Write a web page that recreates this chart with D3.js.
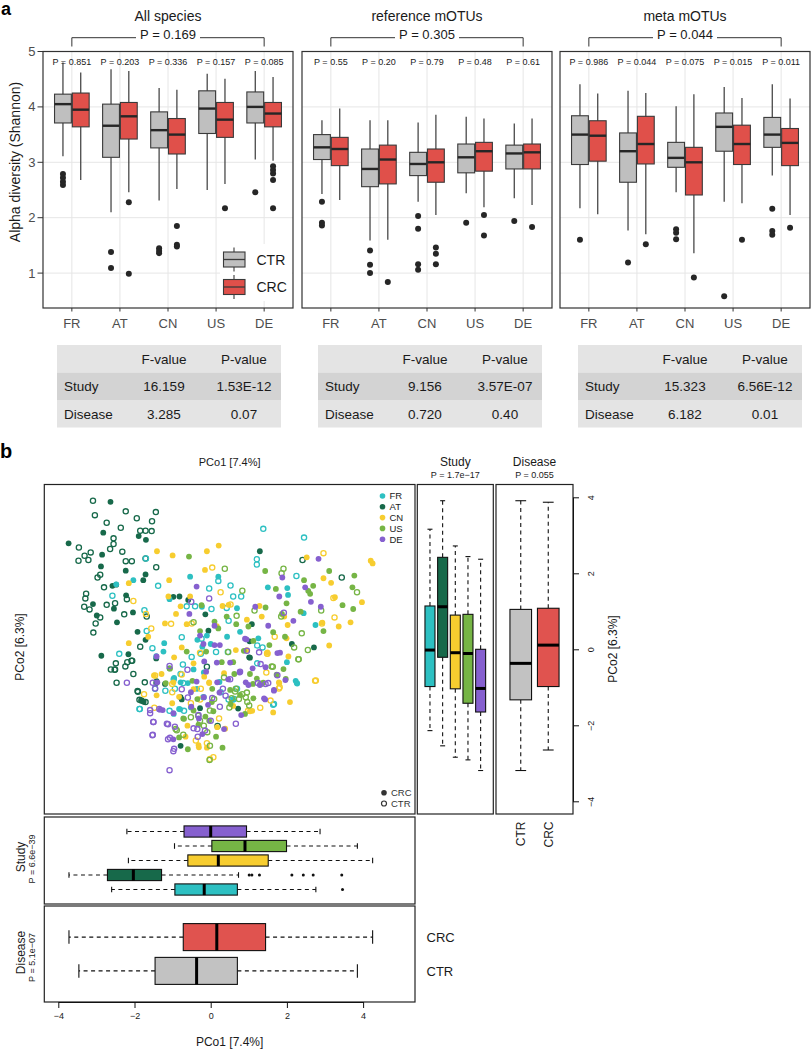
<!DOCTYPE html>
<head>
<meta charset="utf-8">
<title>Alpha diversity and PCoA</title>
<script src="https://d3js.org/d3.v7.min.js"></script>
<style>
  body{margin:0;background:#fff;}
  text{font-family:'Liberation Sans', Arial, sans-serif;}
</style>
</head>
<body>
<script>
// ---------- data: panel a ----------
var studies = ["FR", "AT", "CN", "US", "DE"];
var groups = ["CTR", "CRC"];

// box stats per study, CTR then CRC
var allSpecies = [
  [{lo:3.11,q1:3.71,med:4.05,q3:4.23,hi:4.80,out:[2.79,2.72,2.65,2.59]}, {lo:2.68,q1:3.64,med:3.95,q3:4.25,hi:4.62,out:[]}],
  [{lo:2.10,q1:3.09,med:3.66,q3:4.05,hi:4.68,out:[1.38,1.09]}, {lo:2.46,q1:3.42,med:3.83,q3:4.08,hi:4.65,out:[2.28,0.99]}],
  [{lo:2.31,q1:3.26,med:3.58,q3:3.91,hi:4.34,out:[1.45,1.40,1.36]}, {lo:2.52,q1:3.15,med:3.50,q3:3.79,hi:4.31,out:[1.85,1.51,1.48]}],
  [{lo:2.50,q1:3.52,med:3.97,q3:4.29,hi:4.60,out:[]}, {lo:2.61,q1:3.45,med:3.77,q3:4.08,hi:4.51,out:[2.17]}],
  [{lo:3.05,q1:3.71,med:4.00,q3:4.27,hi:4.65,out:[2.46]}, {lo:3.03,q1:3.64,med:3.88,q3:4.08,hi:4.54,out:[2.93,2.86,2.80,2.68,2.17]}]
];
var refMotus = [
  [{lo:2.43,q1:3.05,med:3.27,q3:3.50,hi:3.76,out:[2.29,1.91,1.86]}, {lo:2.32,q1:2.94,med:3.24,q3:3.45,hi:3.97,out:[]}],
  [{lo:1.59,q1:2.56,med:2.88,q3:3.24,hi:3.76,out:[1.41,1.15,1.00]}, {lo:1.60,q1:2.61,med:3.05,q3:3.31,hi:3.76,out:[0.84]}],
  [{lo:2.29,q1:2.76,med:2.97,q3:3.18,hi:3.72,out:[2.03,1.80,1.16,1.06]}, {lo:2.05,q1:2.64,med:3.00,q3:3.24,hi:3.86,out:[1.46,1.35,1.16]}],
  [{lo:2.44,q1:2.81,med:3.09,q3:3.33,hi:3.82,out:[1.91]}, {lo:2.19,q1:2.84,med:3.20,q3:3.36,hi:3.79,out:[2.05,1.68]}],
  [{lo:2.35,q1:2.88,med:3.16,q3:3.31,hi:3.70,out:[1.94]}, {lo:2.23,q1:2.88,med:3.18,q3:3.33,hi:3.79,out:[1.83]}]
];
var metaMotus = [
  [{lo:2.17,q1:2.96,med:3.50,q3:3.84,hi:4.41,out:[1.60]}, {lo:2.06,q1:3.02,med:3.48,q3:3.75,hi:4.24,out:[]}],
  [{lo:1.77,q1:2.64,med:3.20,q3:3.53,hi:4.29,out:[1.19]}, {lo:1.70,q1:2.97,med:3.33,q3:3.83,hi:4.25,out:[1.52]}],
  [{lo:2.46,q1:2.91,med:3.08,q3:3.36,hi:4.01,out:[1.79,1.73,1.61]}, {lo:1.36,q1:2.41,med:3.00,q3:3.27,hi:4.23,out:[0.92]}],
  [{lo:2.29,q1:3.20,med:3.64,q3:3.89,hi:4.36,out:[0.58]}, {lo:2.26,q1:2.96,med:3.33,q3:3.67,hi:4.16,out:[1.60]}],
  [{lo:2.76,q1:3.27,med:3.50,q3:3.81,hi:4.41,out:[2.16,1.76,1.69]}, {lo:2.05,q1:2.94,med:3.35,q3:3.61,hi:4.15,out:[1.82]}]
];
var panelTitles = ["All species", "reference mOTUs", "meta mOTUs"];
var studyP = [
  ["0.851", "0.203", "0.336", "0.157", "0.085"],
  ["0.55", "0.20", "0.79", "0.48", "0.61"],
  ["0.986", "0.044", "0.075", "0.015", "0.011"]
];
var overallP = ["0.169", "0.305", "0.044"];
var yTicksA = [1, 2, 3, 4, 5];

// anova tables
var tableHeader = ["", "F-value", "P-value"];
var tableStudy = [["16.159", "1.53E-12"], ["9.156", "3.57E-07"], ["15.323", "6.56E-12"]];
var tableDisease = [["3.285", "0.07"], ["0.720", "0.40"], ["6.182", "0.01"]];

// ---------- data: panel b (PCo1, PCo2) ----------
var frCRC = [[-0.54,1.91],[0.20,1.91],[-2.03,1.82],[-2.48,1.71],[-1.08,1.32],[-0.23,1.12],[0.69,1.08],[1.50,1.63],[2.01,1.61],[2.03,1.43],[2.75,0.64],[2.44,0.95],[2.00,-0.34],[2.26,-0.89],[1.25,0.29],[0.77,0.46],[0.43,0.33],[0.00,0.14],[-0.22,0.07],[-0.35,0.25],[-0.10,0.36],[-1.24,-0.06],[-1.43,-0.18],[-1.22,0.16],[-0.96,-0.75],[-0.60,-0.89],[-0.36,-1.04],[-0.80,-1.58],[-0.97,-1.70],[-0.18,-0.61],[0.23,-0.86],[-0.45,-0.53],[0.59,-1.33],
  [-0.79,-0.87],[-0.83,-1.57],[-0.52,-1.53],[2.23,-0.83],[2.27,-0.90]];
var frCTR = [[1.38,3.17],[2.45,2.94],[1.21,2.37],[1.21,2.23],[2.25,1.93],[-1.70,2.39],[-1.38,1.67],[-1.74,1.03],[-1.68,0.48],[-0.76,0.32],[-0.63,1.13],[-0.41,1.13],[-0.04,1.60],[0.20,1.80],[0.52,1.68],[0.59,1.39],[0.80,1.39],[0.42,1.09],[0.47,0.75],[0.02,1.06],[-0.24,0.28],[-0.26,-0.12],[-0.50,-0.20],[-0.73,-0.40],[-1.53,0.03],[-2.40,-0.12],[-2.58,1.41],[0.14,-0.07],[0.45,-0.07],[1.22,0.10],[1.36,0.05],[-0.97,-0.79],[-1.19,-1.09],[-0.94,-1.04],[-0.72,-0.89],[-1.87,-1.57],[0.47,-1.32],[0.69,-1.04],[1.64,-1.46],[1.22,-0.37],[-0.19,-1.26],
  [-1.46,-1.04],[-0.79,-0.65],[0.26,-1.13],[-0.70,-1.62],[-1.86,-1.57],[-1.08,-1.62],[1.66,-1.44],[0.61,-1.31]];
var atCRC = [[-2.63,3.88],[-2.82,3.07],[-1.89,2.98],[-1.70,2.88],[-3.73,2.79],[-2.85,2.49],[-2.88,2.18],[-2.23,2.07],[-1.77,1.82],[-1.71,1.97],[-2.58,1.67],[-2.48,1.70],[-2.22,1.42],[-3.09,1.19],[-2.99,0.89],[-2.54,1.07],[-2.04,0.97],[-2.46,0.71],[-2.87,-0.17],[-1.92,0.46],[-1.71,0.25],[-1.43,-0.24],[-2.16,-0.13],[-1.43,-0.89],[-1.81,-1.35],[-0.98,1.38],[-0.82,1.39],[-0.59,1.30],[-0.14,0.92],[-0.06,0.49],[1.08,0.66],[1.02,0.21],[1.03,-0.22],[1.29,2.58],[2.71,0.05],[2.13,0.14],[-0.76,-1.32],[-0.28,-1.55],[0.72,-1.56],[-0.79,-2.54],[-1.42,-0.84],[-1.08,-0.50],
  [-1.20,-0.91],[-0.79,-1.26],[1.01,-0.21],[-1.76,-1.38]];
var atCTR = [[-3.09,3.91],[-3.04,3.53],[-2.73,3.33],[-2.23,3.63],[-1.94,3.45],[-1.44,3.61],[-1.54,3.37],[-2.36,3.20],[-1.85,3.12],[-1.71,3.12],[-1.55,3.11],[-2.55,2.92],[-2.64,2.64],[-3.46,2.68],[-3.31,2.46],[-3.47,2.33],[-3.15,2.55],[-3.21,2.35],[-2.55,2.77],[-2.32,2.57],[-2.23,2.32],[-2.07,2.32],[-1.71,2.39],[-1.43,2.16],[-2.97,1.89],[-2.90,1.96],[-2.80,1.63],[-3.27,1.46],[-3.29,1.34],[-3.32,1.12],[-3.18,1.05],[-2.90,0.84],[-3.02,0.68],[-3.08,0.44],[-2.73,1.17],[-2.51,1.21],[-2.27,0.92],[-2.20,1.32],[-2.62,-0.53],[-2.51,-0.53],[-2.49,-0.37],[-2.24,-0.45],[-2.06,-0.30],[-2.03,-0.65],[-2.47,-0.88],[-1.92,-1.10],[-1.73,-0.87],[-1.87,-1.33],[-1.71,-1.39],[-1.85,0.07],[-1.68,0.86],[2.41,2.35],[3.44,1.89],[-0.10,-0.46],[0.18,-2.02],
  [-2.08,-0.30],[-2.19,-0.34],[-2.52,-0.54],[-1.91,-1.12],[-1.82,-1.35]];
var cnCRC = [[-1.41,2.58],[-1.00,2.47],[-0.10,2.58],[0.21,2.73],[-0.15,2.09],[-1.09,1.82],[-2.15,1.74],[-1.11,1.39],[-0.91,0.93],[-0.79,1.13],[-0.54,1.39],[0.31,1.14],[0.47,1.17],[0.95,0.78],[1.28,1.14],[1.34,0.86],[1.93,0.86],[2.02,0.64],[2.96,1.87],[3.16,1.75],[3.26,1.37],[2.93,0.70],[3.36,0.60],[3.67,0.71],[3.97,1.24],[4.20,2.33],[4.25,2.26],[3.11,0.10],[2.52,2.42],[-2.15,0.16],[-1.64,0.33],[-1.20,0.68],[-0.63,0.66],[-0.76,0.05],[-0.96,-0.21],[-0.45,-0.37],[-0.17,-0.72],[-0.04,-0.89],[0.35,-0.63],[0.66,-0.02],[0.95,-0.02],[1.49,-0.08],[2.04,-0.19],[1.80,-0.89],[2.08,-1.39],[1.64,-1.66],[1.03,-1.63],[0.59,-1.49],[0.38,-2.09],[-0.10,-2.59],[-0.32,-2.52],[-0.66,-2.30],[-1.42,-1.21],[-0.83,-1.25],[-0.45,-1.05],[-1.29,-0.65],[-1.01,-1.42],[0.16,0.61],[1.99,0.29],
  [-1.49,-0.69],[-0.98,-0.87],[-0.04,-0.87],[-0.61,-2.01],[0.17,-2.05],[-0.31,-2.58],[1.79,-0.87],[1.09,-1.62]];
var cnCTR = [[0.04,2.15],[-2.03,1.27],[-1.70,0.93],[-1.56,0.55],[-1.04,0.67],[0.26,1.50],[0.52,1.18],[-0.50,0.68],[-0.28,-0.09],[-0.76,-0.66],[-1.46,-0.69],[-1.01,-0.91],[-1.75,-1.18],[-1.48,-1.54],[-0.52,-1.42],[-0.28,-1.32],[0.22,-1.82],[0.98,-1.62],[1.30,-1.54],[1.48,-0.11],[1.68,0.33],[1.46,-0.61],[1.81,-1.00],[2.76,-0.82],[3.22,1.35],[3.25,0.84],[2.96,2.53],[2.92,0.68],[0.07,-2.84],[-0.10,-2.47],
  [-1.01,-1.13],[-0.26,-1.04],[-0.39,-2.40],[1.49,-0.12],[2.74,-0.83],[1.79,-1.03],[1.57,-1.35],[-0.02,-2.89]];
var usCRC = [[-0.57,2.44],[1.43,2.06],[1.71,1.59],[2.45,1.82],[2.56,1.54],[2.69,1.67],[3.11,2.06],[3.77,1.94],[3.72,1.63],[3.46,1.16],[3.74,1.06],[2.96,0.48],[2.61,1.46],[1.99,1.21],[2.36,0.99],[1.95,0.33],[1.54,0.11],[1.44,1.10],[1.87,0.93],[1.64,0.45],[0.99,0.60],[0.67,0.66],[0.42,0.86],[-0.28,0.48],[-0.24,1.16],[0.10,0.73],[0.20,0.55],[-0.12,-0.06],[-0.63,-0.06],[0.29,-0.34],[0.59,-0.34],[0.87,-0.04],[1.12,0.22],[1.03,-0.65],[1.21,-0.77],[1.38,-0.88],[0.62,-0.65],[0.51,-1.07],[0.03,-1.39],[-0.14,-1.77],[0.07,-1.63],[-0.45,-1.61],[-0.32,-1.98],[-0.60,-2.63],[0.14,-2.30],[0.31,-2.59],[0.77,-1.20],[1.12,-1.29],[1.73,-0.67],[1.91,-0.52],[-0.72,-1.82],[-0.48,-0.83],[-1.18,-0.89],[-1.07,-0.51],
  [-0.35,-1.31],[0.04,-1.04],[-0.70,-1.83],[-0.04,-1.88],[-0.83,-2.32],[1.97,-0.78],[1.11,-0.91],[0.90,-1.70],[0.52,-1.44]];
var usCTR = [[0.37,2.12],[1.91,2.12],[1.86,2.00],[0.83,1.54],[0.68,0.88],[1.15,1.02],[1.85,0.86],[-0.45,0.71],[2.90,1.02],[3.84,1.50],[2.39,0.42],[2.55,-0.02],[2.31,-0.26],[2.19,0.05],[0.46,-0.07],[1.63,-0.46],[0.95,-1.14],[0.64,-1.11],[0.49,-1.53],[0.55,-1.29],[-0.02,-1.61],[-0.28,-1.88],[-0.02,-2.54],[-0.89,-2.13],[-0.72,-2.25],[-0.03,-2.91],
  [0.09,-1.31],[0.35,-0.74],[-0.52,-1.79],[-0.33,-1.75],[-0.18,-2.01],[-0.09,-2.18],[-0.92,-2.10],[2.30,-0.26],[1.60,-0.45],[1.31,-0.91],[0.83,-1.18],[0.92,-1.26],[0.96,-1.39],[0.74,-1.31],[1.01,-1.48],[0.66,-1.04]];
var deCRC = [[-0.37,1.65],[-0.56,0.93],[0.10,0.62],[-0.28,0.36],[-0.19,0.14],[0.10,0.11],[0.24,0.11],[0.94,0.26],[1.17,1.12],[1.51,0.62],[1.80,1.39],[1.88,1.89],[2.48,1.63],[2.83,2.38],[2.89,1.12],[2.63,1.25],[2.17,0.75],[1.82,-0.09],[1.96,-0.81],[1.66,-1.07],[1.43,-1.32],[1.10,-0.50],[0.76,-0.61],[0.46,-0.79],[0.51,-0.35],[0.16,-0.35],[0.23,-1.14],[-0.07,-1.46],[-0.37,-0.85],[-0.17,-0.32],[-0.51,-1.51],[-1.26,-1.60],[-0.98,-1.68],[-0.31,-1.82],[-0.98,-2.37],[-0.12,-0.59],[0.99,-0.94],[1.29,-0.94],[0.90,0.28],[-1.42,-0.19],
  [-1.40,-0.87],[-1.33,-1.59],[-0.52,-1.13],[-0.18,-1.26],[0.17,-0.87],[0.35,-2.10],[-0.22,-2.23],[1.75,-0.10],[1.44,-0.47],[1.66,-1.09],[0.92,-0.87],[1.40,-1.29],[0.80,-1.73]];
var deCTR = [[-0.04,1.34],[-0.51,1.25],[1.92,0.96],[0.95,-0.04],[1.27,-0.08],[0.77,-0.59],[1.51,-0.89],[1.24,-0.89],[0.51,-0.79],[0.32,-1.04],[0.04,-1.28],[0.24,-1.51],[-0.32,-1.73],[-0.45,-2.08],[-0.94,-2.04],[-1.15,-1.96],[-1.12,-2.37],[-0.98,-2.68],[-1.52,-2.25],[-1.50,-1.91],[-1.59,-1.60],[-1.35,-1.57],[-1.46,-1.03],[-1.52,-0.88],[-1.08,-0.44],[-0.61,-0.54],[-0.76,-1.05],[-0.60,-1.27],[0.00,-1.88],[0.66,-1.96],[-2.20,-0.88],[-1.08,-3.18],[-0.15,-2.14],[-0.34,-2.30],
  [-1.59,-1.68],[-1.51,-1.91],[-1.12,-1.97],[-1.53,-2.26],[-1.07,-2.33],[-0.96,-2.62],[0.39,-1.22],[-0.35,-2.10],[1.31,-0.39],[1.75,-0.68],[1.44,-0.91]];

// marginal boxplots on PCo2 (right) and PCo1 (bottom)
var pco2Study = [
  {lo:-2.14,q1:-0.98,med:-0.02,q3:1.14,hi:3.16},
  {lo:-2.54,q1:-0.21,med:1.12,q3:2.42,hi:3.91},
  {lo:-2.84,q1:-1.04,med:-0.09,q3:0.90,hi:2.72},
  {lo:-2.91,q1:-1.42,med:-0.11,q3:0.92,hi:2.44},
  {lo:-3.19,q1:-1.65,med:-1.03,q3:0.00,hi:2.37}
];
var pco2Disease = [
  {lo:-3.19,q1:-1.33,med:-0.37,q3:1.05,hi:3.91},
  {lo:-2.65,q1:-0.98,med:0.11,q3:1.08,hi:3.87}
];
var pco1Study = [
  {lo:-2.60,q1:-0.94,med:-0.17,q3:0.70,hi:2.76,out:[3.46]},
  {lo:-3.72,q1:-2.71,med:-2.03,q3:-1.29,hi:0.73,out:[1.01,1.08,1.28,2.13,2.43,2.69,3.44]},
  {lo:-2.16,q1:-0.60,med:0.20,q3:1.51,hi:4.25,out:[]},
  {lo:-0.95,q1:0.03,med:0.90,q3:1.99,hi:3.85,out:[]},
  {lo:-2.20,q1:-0.70,med:0.00,q3:0.94,hi:2.87,out:[]}
];
var pco1Disease = [
  {lo:-3.46,q1:-1.46,med:-0.37,q3:0.70,hi:3.85},
  {lo:-3.72,q1:-0.72,med:0.16,q3:1.44,hi:4.25}
];
var pcoTicks = [-4, -2, 0, 2, 4];

// ---------- colours ----------
var studyColors = {FR:"#2dc0c2", AT:"#17694a", CN:"#f7cd2f", US:"#76b545", DE:"#8660cf"};
var groupColorsA = {CTR:"#bfbfbf", CRC:"#e0504a"};
var groupColorsB = {CTR:"#c2c2c2", CRC:"#e0534f"};

var svg = d3.select("body").append("svg")
  .attr("width", 811).attr("height", 1050);
svg.append("rect").attr("width", 811).attr("height", 1050).attr("fill", "#fff");

function txt(g, x, y, s, size, anchor) {
  return g.append("text").attr("x", x).attr("y", y).text(s)
    .attr("font-size", size).attr("text-anchor", anchor || "middle").attr("fill", "#1a1a1a");
}
function rotTxt(g, x, y, s, size, anchor) {
  return g.append("text").attr("transform", "translate(" + x + "," + y + ") rotate(-90)")
    .text(s).attr("font-size", size).attr("text-anchor", anchor || "middle").attr("fill", "#1a1a1a");
}

// ================= panel a =================
txt(svg, 1, 15, "a", 18, "start").attr("font-weight", "bold").attr("fill", "#000");

var yA = d3.scaleLinear().domain([0.37, 5]).range([308, 51.5]);
var panelData = [allSpecies, refMotus, metaMotus];
var panelLefts = [43, 302, 560];
var panelW = 250;

panelData.forEach(function(boxes, k) {
  var left = panelLefts[k];
  var x = d3.scaleLinear().domain([0.4, 5.6]).range([left, left + panelW]);
  var g = svg.append("g");

  // grid
  g.selectAll(".hg").data(yTicksA).enter().append("line")
    .attr("x1", left).attr("x2", left + panelW)
    .attr("y1", function(d){ return yA(d); }).attr("y2", function(d){ return yA(d); })
    .attr("stroke", "#e6e6e6").attr("stroke-width", 1);
  g.selectAll(".vg").data(studies).enter().append("line")
    .attr("x1", function(d, i){ return x(i + 1); }).attr("x2", function(d, i){ return x(i + 1); })
    .attr("y1", yA(5)).attr("y2", yA(0.37))
    .attr("stroke", "#e6e6e6").attr("stroke-width", 1);

  // boxes
  var bw = x(0.35) - x(0);
  boxes.forEach(function(pair, i) {
    pair.forEach(function(b, j) {
      var cx = x(i + 1 + (j === 0 ? -0.185 : 0.185));
      g.append("line").attr("x1", cx).attr("x2", cx).attr("y1", yA(b.hi)).attr("y2", yA(b.lo))
        .attr("stroke", "#3a3a3a").attr("stroke-width", 1.2);
      g.append("rect").attr("x", cx - bw / 2).attr("width", bw)
        .attr("y", yA(b.q3)).attr("height", yA(b.q1) - yA(b.q3))
        .attr("fill", groupColorsA[groups[j]]).attr("stroke", "#3a3a3a").attr("stroke-width", 1.1);
      g.append("line").attr("x1", cx - bw / 2).attr("x2", cx + bw / 2)
        .attr("y1", yA(b.med)).attr("y2", yA(b.med))
        .attr("stroke", "#262626").attr("stroke-width", 2.4);
      g.selectAll(null).data(b.out).enter().append("circle")
        .attr("cx", cx).attr("cy", function(d){ return yA(d); }).attr("r", 3)
        .attr("fill", "#262626");
    });
    txt(g, x(i + 1), 65, "P = " + studyP[k][i], 9, "middle");
  });

  // legend (first panel only)
  if (k === 0) {
    var lg = g.append("g");
    lg.append("rect").attr("x", 220).attr("y", 244).attr("width", 72).attr("height", 57).attr("fill", "#fff");
    groups.forEach(function(gr, j) {
      var top = 252 + j * 27.5;
      lg.append("line").attr("x1", 234).attr("x2", 234).attr("y1", top - 4.5).attr("y2", top + 19.5)
        .attr("stroke", "#3a3a3a").attr("stroke-width", 1.1);
      lg.append("rect").attr("x", 223.5).attr("y", top).attr("width", 21.5).attr("height", 15)
        .attr("fill", groupColorsA[gr]).attr("stroke", "#3a3a3a").attr("stroke-width", 1.1);
      lg.append("line").attr("x1", 223.5).attr("x2", 245).attr("y1", top + 7.5).attr("y2", top + 7.5)
        .attr("stroke", "#3a3a3a").attr("stroke-width", 1.3);
      txt(lg, 256.5, top + 12.5, gr, 14, "start");
    });
  }

  // border
  g.append("rect").attr("x", left).attr("y", yA(5)).attr("width", panelW).attr("height", yA(0.37) - yA(5))
    .attr("fill", "none").attr("stroke", "#333").attr("stroke-width", 1.2);

  // x axis
  studies.forEach(function(s, i) {
    g.append("line").attr("x1", x(i + 1)).attr("x2", x(i + 1)).attr("y1", 308).attr("y2", 311.5)
      .attr("stroke", "#333");
    txt(g, x(i + 1), 328, s, 13, "middle").attr("fill", "#4d4d4d");
  });

  // title and overall bracket
  txt(g, (x(1) + x(5)) / 2, 21, panelTitles[k], 14, "middle");
  g.append("path").attr("d", "M" + x(1) + ",46.5V37.7H" + x(5) + "V46.5")
    .attr("fill", "none").attr("stroke", "#333").attr("stroke-width", 1);
  g.append("rect").attr("x", (x(1) + x(5)) / 2 - 32).attr("y", 30).attr("width", 64).attr("height", 14).attr("fill", "#fff");
  txt(g, (x(1) + x(5)) / 2, 38.5, "P = " + overallP[k], 13, "middle");

  // y axis
  if (k === 0) {
    yTicksA.forEach(function(t) {
      g.append("line").attr("x1", 37.5).attr("x2", left).attr("y1", yA(t)).attr("y2", yA(t)).attr("stroke", "#333");
      txt(g, 35.5, yA(t) + 4.6, t, 13, "end").attr("fill", "#4d4d4d");
    });
    rotTxt(g, 20, 162, "Alpha diversity (Shannon)", 14, "middle");
  }
});

// ================= tables =================
var tableLefts = [57, 318, 578];
var tableW = 224, rowH = 27.5, tableTop = 345;
var rowFill = ["#e4e4e4", "#d3d3d3", "#e4e4e4"];
tableLefts.forEach(function(tl, k) {
  var g = svg.append("g");
  var rows = [tableHeader, ["Study"].concat(tableStudy[k]), ["Disease"].concat(tableDisease[k])];
  rows.forEach(function(r, i) {
    var y0 = tableTop + i * rowH;
    g.append("rect").attr("x", tl).attr("y", y0).attr("width", tableW).attr("height", rowH).attr("fill", rowFill[i]);
    txt(g, tl + 7, y0 + rowH / 2 + 4.8, r[0], 13.5, "start");
    txt(g, tl + 107, y0 + rowH / 2 + 4.8, r[1], 13.5, "middle");
    txt(g, tl + 187, y0 + rowH / 2 + 4.8, r[2], 13.5, "middle");
  });
});

// ================= panel b =================
txt(svg, 0, 458, "b", 20, "start").attr("font-weight", "bold").attr("fill", "#000");

var xB = d3.scaleLinear().domain([-4, 4]).range([58.3, 363.1]);
var yB = d3.scaleLinear().domain([-4, 4]).range([801.3, 497.3]);
var scL = 44.3, scR = 415, scT = 484.5, scB = 814;

// scatter
var sg = svg.append("g");
var sets = [
  ["AT", atCTR, false], ["AT", atCRC, true],
  ["FR", frCTR, false], ["FR", frCRC, true],
  ["CN", cnCTR, false], ["CN", cnCRC, true],
  ["US", usCTR, false], ["US", usCRC, true],
  ["DE", deCTR, false], ["DE", deCRC, true]
];
sets.forEach(function(s) {
  sg.selectAll(null).data(s[1]).enter().append("circle")
    .attr("cx", function(d){ return xB(d[0]); })
    .attr("cy", function(d){ return yB(d[1]); })
    .attr("r", s[2] ? 2.9 : 2.6)
    .attr("fill", s[2] ? studyColors[s[0]] : "none")
    .attr("stroke", studyColors[s[0]])
    .attr("stroke-width", s[2] ? 0 : 1.3);
});
// scatter legends
studies.forEach(function(s, i) {
  var yy = 496 + i * 10.8;
  sg.append("circle").attr("cx", 382.5).attr("cy", yy).attr("r", 2.8).attr("fill", studyColors[s]);
  txt(sg, 389.5, yy + 3.4, s, 9.5, "start");
});
sg.append("circle").attr("cx", 384).attr("cy", 792.7).attr("r", 2.8).attr("fill", "#333");
txt(sg, 391, 796.2, "CRC", 9.5, "start").attr("fill", "#333");
sg.append("circle").attr("cx", 384).attr("cy", 803.5).attr("r", 2.5).attr("fill", "none").attr("stroke", "#333").attr("stroke-width", 1.2);
txt(sg, 391, 807, "CTR", 9.5, "start").attr("fill", "#333");

sg.append("rect").attr("x", scL).attr("y", scT).attr("width", scR - scL).attr("height", scB - scT)
  .attr("fill", "none").attr("stroke", "#222").attr("stroke-width", 1.2);
txt(svg, (scL + scR) / 2, 465.7, "PCo1 [7.4%]", 11, "middle");
rotTxt(svg, 24, 647, "PCo2 [6.3%]", 12, "middle");

// R-style box (dashed whiskers, staples, thick median)
function rBox(g, b, c, hw, vs, ps, fill, vertical) {
  function L(a1, p1, a2, p2) {
    var l = g.append("line");
    if (vertical) l.attr("x1", p1).attr("x2", p2).attr("y1", vs(a1)).attr("y2", vs(a2));
    else l.attr("y1", p1).attr("y2", p2).attr("x1", vs(a1)).attr("x2", vs(a2));
    return l.attr("stroke", "#111").attr("stroke-width", 1.1);
  }
  var cp = ps(c);
  L(b.q3, cp, b.hi, cp).attr("stroke-dasharray", "4,3.5");
  L(b.q1, cp, b.lo, cp).attr("stroke-dasharray", "4,3.5");
  L(b.hi, cp - hw / 2, b.hi, cp + hw / 2);
  L(b.lo, cp - hw / 2, b.lo, cp + hw / 2);
  var r = g.append("rect").attr("fill", fill).attr("stroke", "#111").attr("stroke-width", 1.1);
  if (vertical) r.attr("x", cp - hw).attr("width", 2 * hw).attr("y", vs(b.q3)).attr("height", vs(b.q1) - vs(b.q3));
  else r.attr("y", cp - hw).attr("height", 2 * hw).attr("x", vs(b.q1)).attr("width", vs(b.q3) - vs(b.q1));
  L(b.med, cp - hw, b.med, cp + hw).attr("stroke", "#000").attr("stroke-width", 3);
  if (b.out) {
    b.out.forEach(function(o) {
      var dot = g.append("circle").attr("r", 1.5).attr("fill", "#111");
      if (vertical) dot.attr("cx", cp).attr("cy", vs(o));
      else dot.attr("cx", vs(o)).attr("cy", cp);
    });
  }
}

// right: study boxes on PCo2
var rg = svg.append("g");
var xStudyR = d3.scaleLinear().domain([0, 6]).range([417.3, 493.3]);
pco2Study.forEach(function(b, i) {
  rBox(rg, b, i + 1, 5, yB, xStudyR, studyColors[studies[i]], true);
});
rg.append("rect").attr("x", 417.3).attr("y", scT).attr("width", 76).attr("height", scB - scT)
  .attr("fill", "none").attr("stroke", "#222").attr("stroke-width", 1.2);
txt(rg, 455.3, 466.3, "Study", 12, "middle");
txt(rg, 455.3, 478.3, "P = 1.7e\u221217", 9, "middle");

// right: disease boxes on PCo2
var xDisR = d3.scaleLinear().domain([0.1, 2.9]).range([496, 573]);
pco2Disease.forEach(function(b, i) {
  rBox(rg, b, i + 1, 10.8, yB, xDisR, groupColorsB[groups[i]], true);
});
rg.append("rect").attr("x", 496).attr("y", scT).attr("width", 77).attr("height", scB - scT)
  .attr("fill", "none").attr("stroke", "#222").attr("stroke-width", 1.2);
txt(rg, 534.5, 466.3, "Disease", 12, "middle");
txt(rg, 534.5, 478.3, "P = 0.055", 9, "middle");
groups.forEach(function(gr, i) {
  rotTxt(rg, xDisR(i + 1) + 4.3, 821.5, gr, 12, "end");
});

// right axis
var ra = svg.append("g").attr("transform", "translate(573,0)")
  .call(d3.axisRight(yB).tickValues(pcoTicks).tickSize(6).tickSizeOuter(0)
    .tickFormat(function(d){ return d < 0 ? "\u2212" + Math.abs(d) : d; }));
ra.select(".domain").attr("stroke", "#111");
ra.selectAll(".tick line").attr("stroke", "#111");
ra.selectAll(".tick text").attr("x", null).attr("dy", null).attr("y", null)
  .attr("transform", "translate(21,0) rotate(-90)").attr("text-anchor", "middle")
  .attr("font-size", 9).attr("font-family", "'Liberation Sans', Arial, sans-serif").attr("fill", "#1a1a1a");
rotTxt(svg, 617, 649, "PCo2 [6.3%]", 12, "middle");

// bottom: study boxes on PCo1
var bg = svg.append("g");
var yStudyB = d3.scaleLinear().domain([0, 6]).range([904, 817]);
pco1Study.forEach(function(b, i) {
  rBox(bg, b, i + 1, 5.6, xB, yStudyB, studyColors[studies[i]], false);
});
bg.append("rect").attr("x", scL).attr("y", 817).attr("width", scR - scL).attr("height", 87)
  .attr("fill", "none").attr("stroke", "#222").attr("stroke-width", 1.2);
rotTxt(bg, 24.5, 857, "Study", 12, "middle");
rotTxt(bg, 35, 859, "P = 6.6e\u221239", 9, "middle");

// bottom: disease boxes on PCo1
var yDisB = d3.scaleLinear().domain([0.08, 2.92]).range([1002, 906]);
pco1Disease.forEach(function(b, i) {
  rBox(bg, b, i + 1, 13.5, xB, yDisB, groupColorsB[groups[i]], false);
});
bg.append("rect").attr("x", scL).attr("y", 906).attr("width", scR - scL).attr("height", 96)
  .attr("fill", "none").attr("stroke", "#222").attr("stroke-width", 1.2);
rotTxt(bg, 24.5, 952.5, "Disease", 12, "middle");
rotTxt(bg, 35, 957.5, "P = 5.1e\u221207", 9, "middle");
groups.forEach(function(gr, i) {
  txt(bg, 426.5, yDisB(i + 1) + 4.6, gr, 13, "start");
});

// bottom axis
var ba = svg.append("g").attr("transform", "translate(0,1002)")
  .call(d3.axisBottom(xB).tickValues(pcoTicks).tickSize(6).tickSizeOuter(0)
    .tickFormat(function(d){ return d < 0 ? "\u2212" + Math.abs(d) : d; }));
ba.select(".domain").attr("stroke", "#111");
ba.selectAll(".tick line").attr("stroke", "#111");
ba.selectAll(".tick text").attr("y", 17).attr("dy", null)
  .attr("font-size", 9).attr("font-family", "'Liberation Sans', Arial, sans-serif").attr("fill", "#1a1a1a");
txt(svg, (scL + scR) / 2, 1045.5, "PCo1 [7.4%]", 12, "middle");
</script>
</body>
